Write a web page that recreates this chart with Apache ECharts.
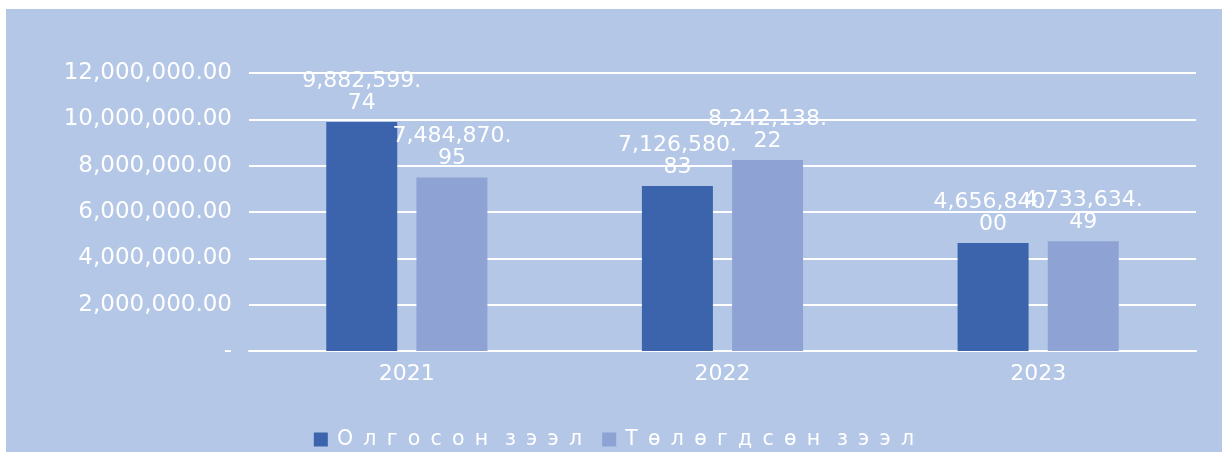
<!DOCTYPE html>
<html>
<head>
<meta charset="utf-8">
<script src="https://cdn.jsdelivr.net/npm/echarts@6/dist/echarts.min.js"></script>
<style>
  html, body { margin: 0; padding: 0; background: #ffffff; }
  #main { position: absolute; left: 6px; top: 9px; width: 1216px; height: 443px; background: #b4c7e7; }
</style>
</head>
<body>
<div id="main"></div>
<script>
// data
var years = ['2021', '2022', '2023'];
var issued = [9882599.74, 7126580.83, 4656840.00];     // Олгосон зээл
var repaid = [7484870.95, 8242138.22, 4733634.49];     // Төлөгдсөн зээл
var seriesNames = ['Олгосон зээл', 'Төлөгдсөн зээл'];

var FONT = '"DejaVu Sans", sans-serif';

function fmt(v) {
    var s = v.toFixed(2);
    var parts = s.split('.');
    parts[0] = parts[0].replace(/\B(?=(\d{3})+(?!\d))/g, ',');
    return parts[0] + '.' + parts[1];
}

// labels wrap after the decimal point like in the original
function wrapLabel(p) {
    var s = fmt(p.value).split('.');
    return s[0] + '.\n' + s[1];
}

var chart = echarts.init(document.getElementById('main'));
var option = {
    backgroundColor: '#b4c7e7',
    animation: false,
    grid: { left: 243, right: 26, top: 64, bottom: 101 },
    legend: {
        bottom: -3,
        left: 'center',
        itemWidth: 14,
        itemHeight: 14,
        itemGap: 20,
        icon: 'rect',
        textStyle: { color: '#ffffff', fontSize: 20.5, fontFamily: FONT },
        // wide letter spacing as in the original legend
        formatter: function (name) {
            return '\u2009' + name.split('').join('\u2002').replace('\u2002 \u2002', '\u2002 ');
        },
        data: seriesNames
    },
    xAxis: {
        type: 'category',
        data: years,
        axisLine: { lineStyle: { color: '#ffffff', width: 2 } },
        axisTick: { show: false },
        axisLabel: { color: '#ffffff', fontSize: 22, fontFamily: FONT, margin: 12 }
    },
    yAxis: {
        type: 'value',
        min: 0,
        max: 12000000,
        interval: 2000000,
        axisLine: { show: false },
        axisTick: { show: false },
        splitLine: { lineStyle: { color: '#ffffff', width: 2 } },
        axisLabel: {
            color: '#ffffff', fontSize: 23, fontFamily: FONT, margin: 17,
            formatter: function (v) { return v === 0 ? '-' : fmt(v); }
        }
    },
    series: [
        {
            name: seriesNames[0],
            type: 'bar',
            data: issued,
            barWidth: 71,
            barGap: '27%',
            itemStyle: { color: '#3c64ad' },
            label: {
                show: true, position: 'top', distance: 8,
                color: '#ffffff', fontSize: 22, fontFamily: FONT, lineHeight: 22,
                formatter: wrapLabel
            }
        },
        {
            name: seriesNames[1],
            type: 'bar',
            data: repaid,
            barWidth: 71,
            itemStyle: { color: '#8fa2d4' },
            label: {
                show: true, position: 'top', distance: 8,
                color: '#ffffff', fontSize: 22, fontFamily: FONT, lineHeight: 22,
                formatter: wrapLabel
            }
        }
    ]
};
chart.setOption(option);
</script>
</body>
</html>
